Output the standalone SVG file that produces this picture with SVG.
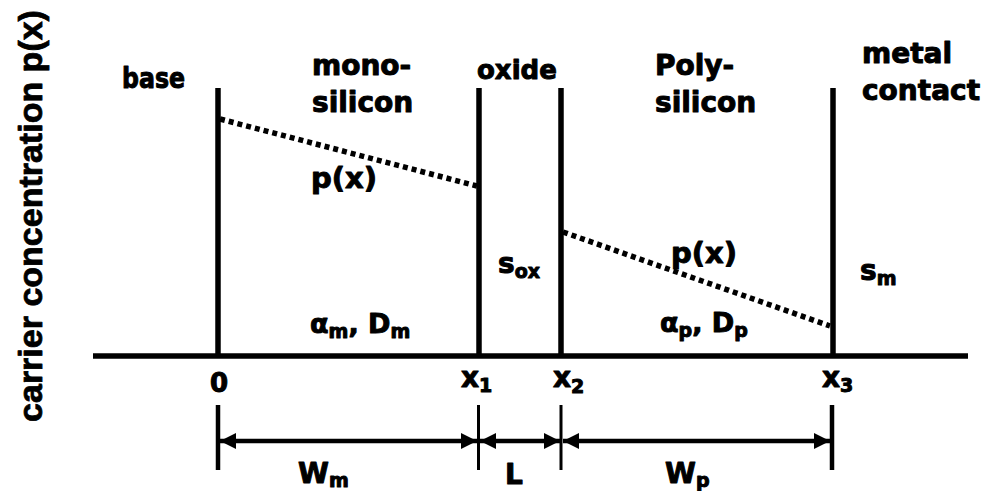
<svg xmlns="http://www.w3.org/2000/svg" width="995" height="491" viewBox="0 0 995 491">
<defs>
<style>
.t{font-family:"DejaVu Sans",Verdana,sans-serif;font-weight:bold;fill:#000;stroke:#000;stroke-width:1;stroke-linejoin:round}
.ax{font-family:"Liberation Sans",Arial,sans-serif;font-weight:bold;fill:#000;stroke:#000;stroke-width:0.8;stroke-linejoin:round}
.wall{stroke:#000;stroke-width:5.5;fill:none}
.dot{stroke:#000;stroke-width:5.5;stroke-dasharray:5 4;fill:none}
.dim{stroke:#000;stroke-width:4.5;fill:none}
</style>
<marker id="ah" viewBox="0 0 16 16" refX="16" refY="8" markerWidth="16" markerHeight="16" markerUnits="userSpaceOnUse" orient="auto-start-reverse">
<path d="M0,0 L16,8 L0,16 Z" fill="#000"/>
</marker>
</defs>
<rect width="995" height="491" fill="#fff"/>
<g id="axis-label"><text class="ax" font-size="34" text-anchor="middle" transform="translate(42,216) rotate(-90)">carrier concentration p(x)</text></g>
<g id="connectors">
<line class="wall" x1="93" y1="356" x2="968" y2="356"/>
<line class="wall" x1="218" y1="88" x2="218" y2="356"/>
<line class="wall" x1="479" y1="88" x2="479" y2="356"/>
<line class="wall" x1="561" y1="88" x2="561" y2="356"/>
<line class="wall" x1="833" y1="88" x2="833" y2="356"/>
<line class="dot" x1="220" y1="119" x2="477" y2="186"/>
<line class="dot" x1="563" y1="232" x2="830" y2="326"/>
<line stroke="#000" stroke-width="4.5" x1="218" y1="405" x2="218" y2="470"/>
<line stroke="#000" stroke-width="3" x1="478.5" y1="405" x2="478.5" y2="470"/>
<line stroke="#000" stroke-width="3" x1="561" y1="405" x2="561" y2="470"/>
<line stroke="#000" stroke-width="4.5" x1="832" y1="405" x2="832" y2="470"/>
<line class="dim" x1="220" y1="441" x2="477" y2="441" marker-start="url(#ah)" marker-end="url(#ah)"/>
<line class="dim" x1="480" y1="441" x2="560" y2="441" marker-start="url(#ah)" marker-end="url(#ah)"/>
<line class="dim" x1="563" y1="441" x2="830" y2="441" marker-start="url(#ah)" marker-end="url(#ah)"/>
</g>
<g id="base"><text class="t" x="122" y="88" font-size="28" textLength="63" lengthAdjust="spacingAndGlyphs">base</text></g>
<g id="mono"><text class="t" x="312" y="75" font-size="28">mono-</text><text class="t" x="312" y="112" font-size="28">silicon</text></g>
<g id="oxide"><text class="t" x="477" y="79" font-size="26">oxide</text></g>
<g id="poly"><text class="t" x="655" y="75" font-size="28">Poly-</text><text class="t" x="655" y="112" font-size="28">silicon</text></g>
<g id="metal"><text class="t" x="862" y="63" font-size="28">metal</text><text class="t" x="862" y="100" font-size="28">contact</text></g>
<g id="px1"><text class="t" x="311" y="188" font-size="29">p(x)</text></g>
<g id="px2"><text class="t" x="671" y="263" font-size="29">p(x)</text></g>
<g id="sox"><text class="t" x="498" y="273" font-size="28">s<tspan font-size="19" dy="5">ox</tspan></text></g>
<g id="sm"><text class="t" x="860" y="280" font-size="28">s<tspan font-size="19" dy="5">m</tspan></text></g>
<g id="am"><text class="t" x="310" y="333" font-size="27">α<tspan font-size="19" dy="5">m</tspan><tspan dy="-5">, D</tspan><tspan font-size="19" dy="5">m</tspan></text></g>
<g id="ap"><text class="t" x="660" y="332" font-size="27">α<tspan font-size="19" dy="5">p</tspan><tspan dy="-5">, D</tspan><tspan font-size="19" dy="5">p</tspan></text></g>
<g id="x0"><text class="t" x="210" y="392" font-size="26">0</text></g>
<g id="x1"><text class="t" x="461" y="387" font-size="28">x<tspan font-size="19" dy="5">1</tspan></text></g>
<g id="x2"><text class="t" x="553" y="387" font-size="28">x<tspan font-size="19" dy="6">2</tspan></text></g>
<g id="x3"><text class="t" x="822" y="387" font-size="28">x<tspan font-size="19" dy="5">3</tspan></text></g>
<g id="wm"><text class="t" x="298" y="483" font-size="28">W<tspan font-size="19" dy="4">m</tspan></text></g>
<g id="L"><text class="t" x="505" y="484" font-size="28">L</text></g>
<g id="wp"><text class="t" x="665" y="483" font-size="28">W<tspan font-size="19" dy="4">p</tspan></text></g>
</svg>
